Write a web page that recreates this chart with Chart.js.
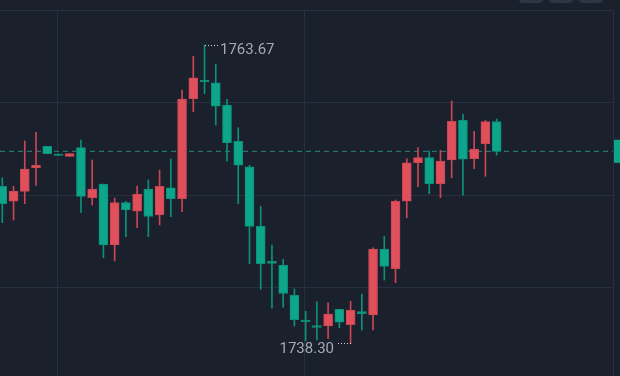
<!DOCTYPE html>
<html>
<head>
<meta charset="utf-8">
<script src="https://cdn.jsdelivr.net/npm/chart.js@4.4.1/dist/chart.umd.min.js"></script>
<style>
  html, body { margin: 0; padding: 0; background: #1b202d; overflow: hidden; }
  #wrap { position: relative; width: 620px; height: 376px; }
  .btn { position: absolute; top: -20px; width: 24px; height: 23px; border-radius: 4px; background: #2e3544; }
</style>
</head>
<body>
<div id="wrap">
  <canvas id="myChart"></canvas>
  <div class="btn" style="left:519px"></div>
  <div class="btn" style="left:549px"></div>
  <div class="btn" style="left:579px"></div>
</div>
<script>
// candle data (index order)
var opens  = [1751.65, 1750.38, 1751.23, 1753.23, 1755.05, 1754.40, 1754.20, 1754.94, 1750.68, 1751.85,
              1746.66, 1750.26, 1749.53, 1751.42, 1749.21, 1751.53, 1750.60, 1759.10, 1760.69, 1760.46,
              1758.57, 1755.48, 1753.32, 1748.25, 1745.27, 1744.93, 1742.38, 1740.28, 1739.80, 1739.77,
              1741.19, 1739.88, 1740.99, 1740.71, 1746.32, 1744.64, 1750.38, 1753.66, 1754.09, 1751.87,
              1753.89, 1757.27, 1754.00, 1755.28, 1757.15];
var highs  = [1752.38, 1751.65, 1755.51, 1756.25, 1755.05, 1754.40, 1754.43, 1755.59, 1753.89, 1751.85,
              1750.66, 1750.38, 1751.68, 1752.19, 1753.04, 1753.97, 1759.84, 1762.71, 1763.67, 1762.05,
              1759.05, 1756.64, 1753.44, 1749.95, 1746.66, 1745.44, 1742.92, 1741.02, 1741.84, 1741.75,
              1741.19, 1741.87, 1742.49, 1746.43, 1747.40, 1750.49, 1754.00, 1754.94, 1754.66, 1754.71,
              1758.91, 1757.80, 1756.33, 1757.27, 1757.38];
var lows   = [1748.56, 1748.79, 1750.17, 1751.74, 1754.43, 1754.29, 1754.20, 1749.41, 1750.06, 1745.58,
              1745.30, 1747.37, 1748.13, 1747.37, 1748.36, 1749.07, 1749.49, 1758.00, 1759.53, 1756.87,
              1753.80, 1750.17, 1745.07, 1742.89, 1741.28, 1741.36, 1739.77, 1738.50, 1738.58, 1738.69,
              1739.63, 1738.30, 1739.43, 1739.43, 1743.68, 1743.45, 1748.98, 1751.62, 1751.02, 1750.68,
              1752.38, 1750.89, 1753.15, 1752.50, 1754.31];
var closes = [1750.17, 1751.23, 1753.12, 1753.44, 1754.43, 1754.29, 1754.43, 1750.80, 1751.42, 1746.66,
              1750.26, 1749.64, 1751.00, 1749.10, 1751.65, 1750.60, 1759.08, 1760.89, 1760.55, 1758.48,
              1755.36, 1753.46, 1748.25, 1745.07, 1745.10, 1742.55, 1740.31, 1740.14, 1739.66, 1740.79,
              1740.09, 1741.11, 1740.82, 1746.32, 1744.85, 1750.38, 1753.66, 1754.09, 1751.87, 1753.80,
              1757.18, 1753.97, 1754.83, 1757.15, 1754.63];

// grid positions (price levels / candle slots)
var yGridAt = [1758.77, 1750.89, 1743.01];
var xGridAt = [4.895, 26.94];

var UP = '#e04f5c';       // red = rising
var DOWN = '#0da68a';     // green = falling
var UP_EDGE = '#c94653';
var DOWN_EDGE = '#0b907a';

var bodies = [], wicks = [], bodyCol = [], edgeCol = [], wickCol = [];
for (var i = 0; i < opens.length; i++) {
    bodies.push({x: i, y: [opens[i], closes[i]]});
    wicks.push({x: i, y: [lows[i], highs[i]]});
    var up = closes[i] >= opens[i];
    bodyCol.push(up ? UP : DOWN);
    edgeCol.push(up ? UP_EDGE : DOWN_EDGE);
    wickCol.push(up ? UP_EDGE : DOWN_EDGE);
}

var X_MIN = -0.205, X_MAX = 54.357;
var lastClose = closes[closes.length - 1];

var markers = {
    id: 'markers',
    afterDatasetsDraw: function (chart) {
        var ctx = chart.ctx, x = chart.scales.x, y = chart.scales.y;
        var hi = 0, lo = 0;
        for (var i = 1; i < highs.length; i++) {
            if (highs[i] > highs[hi]) hi = i;
            if (lows[i] < lows[lo]) lo = i;
        }
        ctx.save();
        ctx.font = '15px Roboto, "Liberation Sans", sans-serif';
        ctx.fillStyle = '#a3a9b5';
        ctx.textBaseline = 'top';
        ctx.strokeStyle = '#d0d4dc';
        ctx.lineWidth = 1;
        ctx.setLineDash([1, 2]);

        var hx = Math.round(x.getPixelForValue(hi)), hy = Math.round(y.getPixelForValue(highs[hi]));
        ctx.beginPath(); ctx.moveTo(hx, hy + 0.5); ctx.lineTo(hx + 13, hy + 0.5); ctx.stroke();
        ctx.textAlign = 'left';
        ctx.fillText(highs[hi].toFixed(2), hx + 15, hy - 2);

        var lx = Math.round(x.getPixelForValue(lo)), ly = Math.round(y.getPixelForValue(lows[lo]));
        ctx.beginPath(); ctx.moveTo(lx - 13, ly + 0.5); ctx.lineTo(lx, ly + 0.5); ctx.stroke();
        ctx.textAlign = 'right';
        ctx.fillText(lows[lo].toFixed(2), lx - 17, ly - 1);

        // current price box on the right axis
        var py = y.getPixelForValue(lastClose);
        ctx.setLineDash([]);
        ctx.fillStyle = closes[closes.length - 1] >= opens[opens.length - 1] ? UP : DOWN;
        ctx.fillRect(chart.chartArea.right + 1, py - 11.5, 20, 23);
        ctx.restore();
    }
};

var ctx = document.getElementById('myChart');

var chartData = {
    data: {
        datasets: [{
            type: 'bar',
            label: 'body',
            data: bodies,
            backgroundColor: bodyCol,
            borderColor: edgeCol,
            borderWidth: 1,
            borderSkipped: false,
            barThickness: 9,
            grouped: false
        }, {
            type: 'bar',
            label: 'wick',
            data: wicks,
            backgroundColor: wickCol,
            borderWidth: 0,
            barThickness: 1,
            grouped: false
        }, {
            type: 'line',
            label: 'last',
            data: [{x: X_MIN, y: lastClose}, {x: X_MAX, y: lastClose}],
            borderColor: '#23746a',
            borderWidth: 1.2,
            borderDash: [5, 4],
            pointRadius: 0
        }]
    },
    options: {
        animation: false,
        responsive: true,
        maintainAspectRatio: false,
        layout: { padding: { top: 10, right: 7, left: 0, bottom: 0 } },
        plugins: { legend: { display: false }, tooltip: { enabled: false } },
        scales: {
            x: {
                type: 'linear',
                position: 'top',
                offset: false,
                min: X_MIN,
                max: X_MAX,
                afterBuildTicks: function (scale) {
                    scale.ticks = xGridAt.map(function (v) { return {value: v}; });
                },
                ticks: { display: false },
                grid: { color: '#283040', drawTicks: false, offset: false },
                border: { display: true, color: '#283040' }
            },
            y: {
                type: 'linear',
                position: 'right',
                min: 1735.52,
                max: 1766.65,
                afterBuildTicks: function (scale) {
                    scale.ticks = yGridAt.map(function (v) { return {value: v}; });
                },
                ticks: { display: false },
                grid: { color: '#283040', drawTicks: false },
                border: { display: true, color: '#283040' }
            }
        }
    },
    plugins: [markers]
};

var myChart = new Chart(ctx, chartData);
</script>
</body>
</html>
